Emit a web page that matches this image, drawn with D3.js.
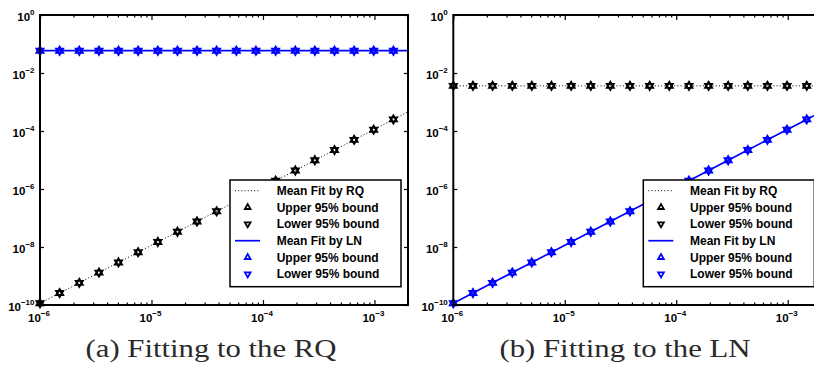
<!DOCTYPE html>
<html>
<head>
<meta charset="utf-8">
<script src="https://cdn.jsdelivr.net/npm/d3@7"></script>
<style>
  html, body { margin: 0; padding: 0; background: #fff; overflow: hidden; }
  svg { display: block; }
</style>
</head>
<body>
<svg id="chart" width="814" height="369"></svg>
<script>
// ---------------- DATA ----------------
const xVals = [1.0e-6, 1.5e-6, 2.25e-6, 3.38e-6, 5.06e-6, 7.59e-6, 1.14e-5, 1.71e-5, 2.56e-5, 3.84e-5,
               5.77e-5, 8.65e-5, 1.30e-4, 1.95e-4, 2.92e-4, 4.38e-4, 6.57e-4, 9.85e-4, 1.48e-3];
const lineX = [1.0e-6, 1.5e-6, 2.25e-6, 3.38e-6, 5.06e-6, 7.59e-6, 1.14e-5, 1.71e-5, 2.56e-5, 3.84e-5,
               5.77e-5, 8.65e-5, 1.30e-4, 1.95e-4, 2.92e-4, 4.38e-4, 6.57e-4, 9.85e-4, 1.48e-3, 2.0e-3];

// (a) Fitting to the RQ
const rqMeanA  = [1.15e-10, 2.58e-10, 5.81e-10, 1.31e-9, 2.94e-9, 6.62e-9, 1.49e-8, 3.35e-8, 7.55e-8, 1.70e-7,
                  3.82e-7, 8.59e-7, 1.93e-6, 4.35e-6, 9.79e-6, 2.20e-5, 4.95e-5, 1.11e-4, 2.51e-4, 4.6e-4];
const rqUpperA = [1.15e-10, 2.58e-10, 5.81e-10, 1.31e-9, 2.94e-9, 6.62e-9, 1.49e-8, 3.35e-8, 7.55e-8, 1.70e-7,
                  3.82e-7, 8.59e-7, 1.93e-6, 4.35e-6, 9.79e-6, 2.20e-5, 4.95e-5, 1.11e-4, 2.51e-4];
const rqLowerA = [1.15e-10, 2.58e-10, 5.81e-10, 1.31e-9, 2.94e-9, 6.62e-9, 1.49e-8, 3.35e-8, 7.55e-8, 1.70e-7,
                  3.82e-7, 8.59e-7, 1.93e-6, 4.35e-6, 9.79e-6, 2.20e-5, 4.95e-5, 1.11e-4, 2.51e-4];
const lnMeanA  = [0.0587, 0.0587, 0.0587, 0.0587, 0.0587, 0.0587, 0.0587, 0.0587, 0.0587, 0.0587,
                  0.0587, 0.0587, 0.0587, 0.0587, 0.0587, 0.0587, 0.0587, 0.0587, 0.0587, 0.0587];
const lnUpperA = [0.0587, 0.0587, 0.0587, 0.0587, 0.0587, 0.0587, 0.0587, 0.0587, 0.0587, 0.0587,
                  0.0587, 0.0587, 0.0587, 0.0587, 0.0587, 0.0587, 0.0587, 0.0587, 0.0587];
const lnLowerA = [0.0587, 0.0587, 0.0587, 0.0587, 0.0587, 0.0587, 0.0587, 0.0587, 0.0587, 0.0587,
                  0.0587, 0.0587, 0.0587, 0.0587, 0.0587, 0.0587, 0.0587, 0.0587, 0.0587];

// (b) Fitting to the LN
const rqMeanB  = [3.6e-3, 3.6e-3, 3.6e-3, 3.6e-3, 3.6e-3, 3.6e-3, 3.6e-3, 3.6e-3, 3.6e-3, 3.6e-3,
                  3.6e-3, 3.6e-3, 3.6e-3, 3.6e-3, 3.6e-3, 3.6e-3, 3.6e-3, 3.6e-3, 3.6e-3, 3.6e-3];
const rqUpperB = [3.6e-3, 3.6e-3, 3.6e-3, 3.6e-3, 3.6e-3, 3.6e-3, 3.6e-3, 3.6e-3, 3.6e-3, 3.6e-3,
                  3.6e-3, 3.6e-3, 3.6e-3, 3.6e-3, 3.6e-3, 3.6e-3, 3.6e-3, 3.6e-3, 3.6e-3];
const rqLowerB = [3.6e-3, 3.6e-3, 3.6e-3, 3.6e-3, 3.6e-3, 3.6e-3, 3.6e-3, 3.6e-3, 3.6e-3, 3.6e-3,
                  3.6e-3, 3.6e-3, 3.6e-3, 3.6e-3, 3.6e-3, 3.6e-3, 3.6e-3, 3.6e-3, 3.6e-3];
const lnMeanB  = [1.15e-10, 2.58e-10, 5.81e-10, 1.31e-9, 2.94e-9, 6.62e-9, 1.49e-8, 3.35e-8, 7.55e-8, 1.70e-7,
                  3.82e-7, 8.59e-7, 1.93e-6, 4.35e-6, 9.79e-6, 2.20e-5, 4.95e-5, 1.11e-4, 2.51e-4, 4.6e-4];
const lnUpperB = [1.15e-10, 2.58e-10, 5.81e-10, 1.31e-9, 2.94e-9, 6.62e-9, 1.49e-8, 3.35e-8, 7.55e-8, 1.70e-7,
                  3.82e-7, 8.59e-7, 1.93e-6, 4.35e-6, 9.79e-6, 2.20e-5, 4.95e-5, 1.11e-4, 2.51e-4];
const lnLowerB = [1.15e-10, 2.58e-10, 5.81e-10, 1.31e-9, 2.94e-9, 6.62e-9, 1.49e-8, 3.35e-8, 7.55e-8, 1.70e-7,
                  3.82e-7, 8.59e-7, 1.93e-6, 4.35e-6, 9.79e-6, 2.20e-5, 4.95e-5, 1.11e-4, 2.51e-4];

const xDomain = [1e-6, 2e-3];
const yDomain = [1e-10, 1];
const xMajorExp = [-6, -5, -4, -3];
const yMajorExp = [0, -2, -4, -6, -8, -10];
const legendLabels = ["Mean Fit by RQ", "Upper 95% bound", "Lower 95% bound",
                      "Mean Fit by LN", "Upper 95% bound", "Lower 95% bound"];
const captions = ["(a) Fitting to the RQ", "(b) Fitting to the LN"];

// ---------------- DRAW ----------------
(function () {
const svg = d3.select("#chart");
const BLUE = "#0000ff";
const tickFont = "Arimo, 'Liberation Sans', Arial, Helvetica, sans-serif";

const panels = [
  { x0: 40, cap: captions[0], capX: 211,
    rqMean: rqMeanA, rqUp: rqUpperA, rqLo: rqLowerA, lnMean: lnMeanA, lnUp: lnUpperA, lnLo: lnLowerA },
  { x0: 453.3, cap: captions[1], capX: 625,
    rqMean: rqMeanB, rqUp: rqUpperB, rqLo: rqLowerB, lnMean: lnMeanB, lnUp: lnUpperB, lnLo: lnLowerB }
];

const W = 368, yTop = 15, yBot = 305;

const xTickVals = [];
for (let e = -6; e <= -3; e++) {
  for (let m = 1; m <= 9; m++) {
    const v = m * Math.pow(10, e);
    if (v >= xDomain[0] * 0.999 && v <= xDomain[1] * 1.001) xTickVals.push(v);
  }
}
const yTickVals = yMajorExp.map(e => Math.pow(10, e));

const upTri = d3.symbol().type(d3.symbolTriangle).size(21)();
const upTriLeg = d3.symbol().type(d3.symbolTriangle).size(14)();

panels.forEach((p, pi) => {
  const x = d3.scaleLog().domain(xDomain).range([p.x0, p.x0 + W]);
  const y = d3.scaleLog().domain(yDomain).range([yBot, yTop]);
  const g = svg.append("g");

  const clipId = "clip" + pi;
  svg.append("clipPath").attr("id", clipId).append("rect")
    .attr("x", p.x0).attr("y", yTop).attr("width", W).attr("height", yBot - yTop);

  const line = d3.line().x((d, i) => x(lineX[i])).y(d => y(d));

  g.append("path").attr("d", line(p.rqMean)).attr("clip-path", `url(#${clipId})`)
    .attr("fill", "none").attr("stroke", "#000").attr("stroke-width", 1)
    .attr("stroke-dasharray", "1,2.2");
  g.append("path").attr("d", line(p.lnMean)).attr("clip-path", `url(#${clipId})`)
    .attr("fill", "none").attr("stroke", BLUE).attr("stroke-width", 1.7);

  function markers(vals, color, down) {
    g.append("g").selectAll("path").data(vals).join("path")
      .attr("d", upTri)
      .attr("transform", (d, i) => `translate(${x(xVals[i])},${y(d)})` + (down ? " rotate(180)" : ""))
      .attr("fill", "none").attr("stroke", color).attr("stroke-width", 1.9);
  }
  markers(p.rqUp, "#000", false);
  markers(p.rqLo, "#000", true);
  markers(p.lnUp, BLUE, false);
  markers(p.lnLo, BLUE, true);

  const isMajorX = v => Math.abs(Math.log10(v) - Math.round(Math.log10(v))) < 1e-6;
  function styleTicks(sel, dirSign, horizontal) {
    sel.select(".domain").remove();
    sel.selectAll(".tick line").each(function(d) {
      const len = horizontal ? (isMajorX(d) ? 5 : 2.5) : 4;
      const l = d3.select(this).attr("stroke", "#000").attr("stroke-width", 1.2);
      if (horizontal) l.attr("y2", dirSign * len); else l.attr("x2", dirSign * len);
    });
    sel.selectAll(".tick text").remove();
  }
  const axB = g.append("g").attr("transform", `translate(0,${yBot})`)
    .call(d3.axisBottom(x).tickValues(xTickVals).tickFormat(""));
  styleTicks(axB, -1, true);
  const axT = g.append("g").attr("transform", `translate(0,${yTop})`)
    .call(d3.axisTop(x).tickValues(xTickVals).tickFormat(""));
  styleTicks(axT, 1, true);
  const axL = g.append("g").attr("transform", `translate(${p.x0},0)`)
    .call(d3.axisLeft(y).tickValues(yTickVals).tickFormat(""));
  styleTicks(axL, 1, false);
  const axR = g.append("g").attr("transform", `translate(${p.x0 + W},0)`)
    .call(d3.axisRight(y).tickValues(yTickVals).tickFormat(""));
  styleTicks(axR, -1, false);

  g.append("rect").attr("x", p.x0).attr("y", yTop).attr("width", W).attr("height", yBot - yTop)
    .attr("fill", "none").attr("stroke", "#000").attr("stroke-width", 2);

  xMajorExp.forEach(e => {
    const t = g.append("text").attr("x", x(Math.pow(10, e)) - 1).attr("y", 322)
      .attr("text-anchor", "middle").attr("font-family", tickFont).attr("font-weight", "bold")
      .attr("font-size", 11.5).attr("fill", "#000");
    t.append("tspan").text("10");
    t.append("tspan").attr("dy", -6).attr("font-size", 8).text("\u2212" + Math.abs(e));
  });
  yMajorExp.forEach(e => {
    const t = g.append("text").attr("x", p.x0 - 5.5).attr("y", y(Math.pow(10, e)) + 5.5)
      .attr("text-anchor", "end").attr("font-family", tickFont).attr("font-weight", "bold")
      .attr("font-size", 11.5).attr("fill", "#000");
    t.append("tspan").text("10");
    t.append("tspan").attr("dy", -6).attr("font-size", 8).text(e === 0 ? "0" : "\u2212" + Math.abs(e));
  });

  const lx = p.x0 + 190, ly = 180, lw = 171, lh = 106.7;
  const lg = g.append("g");
  lg.append("rect").attr("x", lx).attr("y", ly).attr("width", lw).attr("height", lh)
    .attr("fill", "#fff").attr("stroke", "#000").attr("stroke-width", 1.5);
  const rowY = i => ly + 10.7 + i * 16.67;
  legendLabels.forEach((lab, i) => {
    const cy = rowY(i);
    const color = i < 3 ? "#000" : BLUE;
    if (i === 0) {
      lg.append("line").attr("x1", lx + 5).attr("x2", lx + 30).attr("y1", cy).attr("y2", cy)
        .attr("stroke", "#000").attr("stroke-width", 1).attr("stroke-dasharray", "1,2.2");
    } else if (i === 3) {
      lg.append("line").attr("x1", lx + 5).attr("x2", lx + 30).attr("y1", cy).attr("y2", cy)
        .attr("stroke", BLUE).attr("stroke-width", 1.7);
    } else {
      const down = (i === 2 || i === 5);
      lg.append("path").attr("d", upTriLeg)
        .attr("transform", `translate(${lx + 17.7},${cy})` + (down ? " rotate(180)" : ""))
        .attr("fill", "none").attr("stroke", color).attr("stroke-width", 1.8);
    }
    lg.append("text").attr("x", lx + 46.7).attr("y", cy + 4.3)
      .attr("font-family", tickFont).attr("font-weight", "bold").attr("font-size", 12)
      .attr("fill", "#000").text(lab);
  });

  svg.append("text").attr("x", p.capX).attr("y", 357).attr("text-anchor", "middle")
    .attr("font-family", "'Liberation Serif', 'DejaVu Serif', serif").attr("font-size", 25)
    .attr("textLength", 251).attr("lengthAdjust", "spacingAndGlyphs")
    .attr("fill", "#2a2a2a").text(p.cap);
});
})();
</script>
</body>
</html>
